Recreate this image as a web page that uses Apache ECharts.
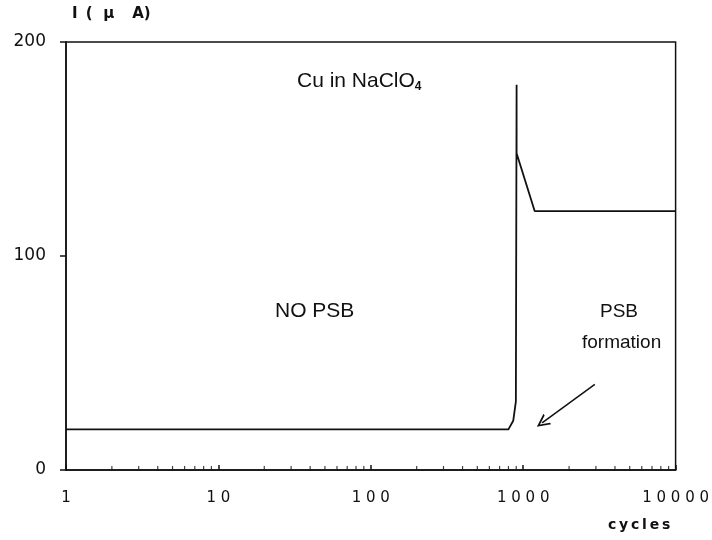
<!DOCTYPE html>
<html><head><meta charset="utf-8">
<script src="https://cdn.jsdelivr.net/npm/echarts@6/dist/echarts.min.js"></script>
<style>html,body{margin:0;padding:0;background:#fff}#c{width:712px;height:540px}</style>
</head><body><div id="c"></div>
<script>
// Data
const cycles  = [1, 800, 860, 895, 905, 905, 1189, 10000];
const current = [19, 19, 23, 32, 180, 148, 121, 121];
const xTicks = [1, 10, 100, 1000, 10000];
const yTicks = [0, 100, 200];
const minorTickX = [];
[1, 10, 100, 1000].forEach(d => { for (let k = 2; k <= 9; k++) minorTickX.push(d * k); });
const arrowFrom = [2950, 40];
const arrowTo = [1330, 22];

const chart = echarts.init(document.getElementById('c'), null, {renderer: 'canvas'});
const FONT = 'DejaVu Sans';
const openArrow = 'path://M0,0 L6,10 L4.2,10 L0,3 L-4.2,10 L-6,10 Z';
chart.setOption({
  backgroundColor: '#ffffff',
  animation: false,
  grid: {left: 66, right: 36, top: 42, bottom: 70, show: true, borderColor: '#111', borderWidth: 1.5, backgroundColor: 'transparent'},
  xAxis: {
    type: 'log', logBase: 10, min: 1, max: 10000,
    axisLine: {show: true, lineStyle: {color: '#111', width: 1.5}},
    axisTick: {show: true, inside: true, length: 5, lineStyle: {color: '#111', width: 1.5}},
    splitLine: {show: false},
    axisLabel: {color: '#111', fontFamily: FONT, fontSize: 15, margin: 21,
      formatter: v => String(Math.round(v)).split('').join(' ')}
  },
  yAxis: {
    type: 'value', min: 0, max: 200, interval: 100,
    axisLine: {show: true, lineStyle: {color: '#111', width: 1.5}},
    axisTick: {show: true, inside: false, length: 6, lineStyle: {color: '#111', width: 1.5}},
    splitLine: {show: false},
    axisLabel: {color: '#111', fontFamily: FONT, fontSize: 17, margin: 20}
  },
  series: [
    {
      type: 'line', data: cycles.map((c, i) => [c, current[i]]),
      symbol: 'none', lineStyle: {color: '#111', width: 1.8}, smooth: false,
      markLine: {
        silent: true, symbol: ['none', openArrow], symbolSize: 13,
        lineStyle: {color: '#111', width: 1.5, type: 'solid'},
        itemStyle: {color: '#111'},
        label: {show: false},
        data: [[{coord: arrowFrom}, {coord: arrowTo}]]
      }
    },
    {
      type: 'scatter', data: minorTickX.map(x => [x, 0]),
      symbol: 'rect', symbolSize: [1.2, 4], symbolOffset: [0, -2],
      itemStyle: {color: '#111'}, silent: true
    }
  ],
  graphic: [
    {type: 'text', left: 72, top: 7, style: {text: 'I \u2009(\u2002\u2009μ\u2002\u2002\u2009A)', font: 'bold 15px "DejaVu Sans"', fill: '#111'}},
    {type: 'text', left: 297, top: 71, style: {
      text: '{a|Cu in NaClO}{s|4}', rich: {
        a: {font: '21px "Liberation Sans"', fill: '#111'},
        s: {font: 'bold 12px "Liberation Sans"', fill: '#111', padding: [10, 0, 0, 0]}
      }}},
    {type: 'text', left: 275, top: 301, style: {text: 'NO PSB', font: '21px "Liberation Sans"', fill: '#111'}},
    {type: 'text', left: 600, top: 302, style: {text: 'PSB', font: '19px "Liberation Sans"', fill: '#111'}},
    {type: 'text', left: 582, top: 333, style: {text: 'formation', font: '19px "Liberation Sans"', fill: '#111'}},
    {type: 'text', left: 608, top: 518, style: {text: 'c\u2009y\u2009c\u2009l\u2009e\u2009s', font: 'bold 14px "DejaVu Sans"', fill: '#111'}}
  ]
});
</script></body></html>
